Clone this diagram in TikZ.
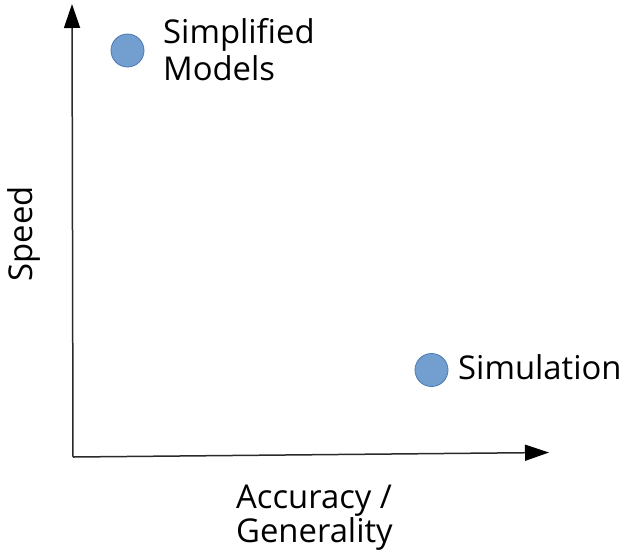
\documentclass[tikz,border=0pt]{standalone}
\usepackage{fontspec}
\setmainfont{Open Sans}
\usetikzlibrary{arrows.meta}
\definecolor{dotfill}{HTML}{729FCF}
\definecolor{dotline}{HTML}{4A78B4}
\definecolor{axiscol}{HTML}{2A2A2A}
\tikzset{
  axis/.style={draw=axiscol, line width=1.5pt, -{Triangle[length=24pt,width=16pt,color=black]}},
  dot/.style={circle, fill=dotfill, draw=dotline, line width=0.8pt, minimum size=33pt, inner sep=0pt},
  lbl/.style={font=\fontsize{32.8}{38}\selectfont, text=black, inner sep=0pt},
}
\begin{document}
\begin{tikzpicture}[x=1pt, y=-1pt]
  \useasboundingbox (0,0) rectangle (628,557);
  % axes
  \coordinate (origin) at (73,457);
  \coordinate (ytip) at (72,4);
  \coordinate (xtip) at (549,452.5);
  \draw[axis] (origin) -- (ytip);
  \draw[axis] (origin) -- (xtip);
  % data points
  \node[dot] (simp) at (127.5,50.5) {};
  \node[dot] (sim) at (431.5,370) {};
  % labels
  \node[lbl, anchor=base west] (simpA) at (163,43.3) {Simplified};
  \node[lbl, anchor=base west] (simpB) at (163,80) {Models};
  \node[lbl, anchor=base west] (simlab) at (458,379) {Simulation};
  \node[lbl, anchor=base west] (accA) at (236,508) {Accuracy /};
  \node[lbl, anchor=base west] (accB) at (236,542) {Generality};
  \node[lbl, anchor=base, rotate=90] (speed) at (32,234) {Speed};
\end{tikzpicture}
\end{document}
